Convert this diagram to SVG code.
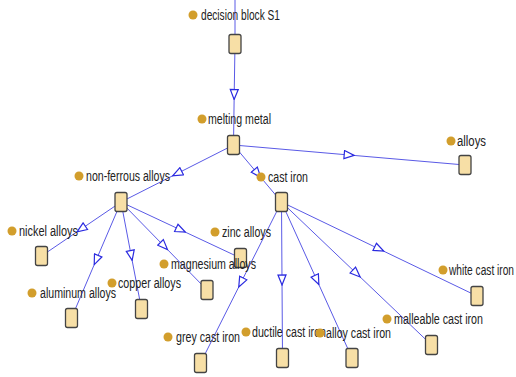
<svg xmlns="http://www.w3.org/2000/svg" width="516" height="377" viewBox="0 0 516 377">
<defs>
<style>
.e{fill:none;stroke:#5a5ae6;stroke-width:1;marker-mid:url(#tri)}
.b{fill:#f7dfa6;stroke:#444;stroke-width:1.3}
.d{fill:#d29e2c}
.t{font-family:"Liberation Sans",Arial,sans-serif;font-size:14px;fill:#222}
</style>
<marker id="tri" viewBox="0 0 12 10" refX="6" refY="5" markerWidth="12" markerHeight="10" markerUnits="userSpaceOnUse" orient="auto">
<path d="M1,1 L11,5 L1,9 Z" fill="#fff" stroke="#2a2ae0" stroke-width="1.2"/>
</marker>
</defs>
<rect width="516" height="377" fill="#fff"/>
<g id="connectors">
<path class="e" d="M235,0 L235,44"/>
<path class="e" d="M235,44 L234.2,94.5 L233.5,145"/>
<path class="e" d="M233.5,145 L349.2,155 L465,165"/>
<path class="e" d="M233.5,145 L177.2,173.5 L121,202"/>
<path class="e" d="M233.5,145 L257.5,173.5 L281.5,202"/>
<path class="e" d="M121,202 L81.2,229 L41.5,256"/>
<path class="e" d="M121,202 L96.2,260 L71.5,318"/>
<path class="e" d="M121,202 L131.2,255.5 L141.5,309"/>
<path class="e" d="M121,202 L164,246 L207,290"/>
<path class="e" d="M121,202 L180.8,230 L240.5,258"/>
<path class="e" d="M281.5,202 L241,282.5 L200.5,363"/>
<path class="e" d="M281.5,202 L282,280 L282.5,358"/>
<path class="e" d="M281.5,202 L316.8,280 L352,358"/>
<path class="e" d="M281.5,202 L356.5,273.5 L431.5,345"/>
<path class="e" d="M281.5,202 L379.2,249 L477,296"/>
</g>
<g id="n1"><rect class="b" x="229" y="34.5" width="12" height="19" rx="2"/><circle class="d" cx="193" cy="15" r="4.5"/><text class="t" x="201" y="20" textLength="79" lengthAdjust="spacingAndGlyphs">decision block S1</text></g>
<g id="n2"><rect class="b" x="227.5" y="135.5" width="12" height="19" rx="2"/><circle class="d" cx="202" cy="119" r="4.5"/><text class="t" x="208" y="124" textLength="63" lengthAdjust="spacingAndGlyphs">melting metal</text></g>
<g id="n3"><rect class="b" x="459" y="155.5" width="12" height="19" rx="2"/><circle class="d" cx="451" cy="141" r="4.5"/><text class="t" x="457" y="146" textLength="29" lengthAdjust="spacingAndGlyphs">alloys</text></g>
<g id="n4"><rect class="b" x="115" y="192.5" width="12" height="19" rx="2"/><circle class="d" cx="79" cy="176" r="4.5"/><text class="t" x="86" y="181" textLength="84" lengthAdjust="spacingAndGlyphs">non-ferrous alloys</text></g>
<g id="n5"><rect class="b" x="275.5" y="192.5" width="12" height="19" rx="2"/><circle class="d" cx="261" cy="177" r="4.5"/><text class="t" x="268" y="182" textLength="40" lengthAdjust="spacingAndGlyphs">cast iron</text></g>
<g id="n6"><rect class="b" x="35.5" y="246.5" width="12" height="19" rx="2"/><circle class="d" cx="12" cy="231" r="4.5"/><text class="t" x="19" y="236" textLength="59" lengthAdjust="spacingAndGlyphs">nickel alloys</text></g>
<g id="n7"><rect class="b" x="234.5" y="248.5" width="12" height="19" rx="2"/><circle class="d" cx="215" cy="232" r="4.5"/><text class="t" x="222" y="237" textLength="49" lengthAdjust="spacingAndGlyphs">zinc alloys</text></g>
<g id="n8"><rect class="b" x="201" y="280.5" width="12" height="19" rx="2"/><circle class="d" cx="164" cy="264" r="4.5"/><text class="t" x="171" y="269" textLength="85" lengthAdjust="spacingAndGlyphs">magnesium alloys</text></g>
<g id="n9"><rect class="b" x="135.5" y="299.5" width="12" height="19" rx="2"/><circle class="d" cx="112" cy="283" r="4.5"/><text class="t" x="118" y="288" textLength="63" lengthAdjust="spacingAndGlyphs">copper alloys</text></g>
<g id="n10"><rect class="b" x="65.5" y="308.5" width="12" height="19" rx="2"/><circle class="d" cx="32" cy="293" r="4.5"/><text class="t" x="40" y="298" textLength="76" lengthAdjust="spacingAndGlyphs">aluminum alloys</text></g>
<g id="n11"><rect class="b" x="194.5" y="353.5" width="12" height="19" rx="2"/><circle class="d" cx="168" cy="337" r="4.5"/><text class="t" x="176" y="342" textLength="64" lengthAdjust="spacingAndGlyphs">grey cast iron</text></g>
<g id="n12"><rect class="b" x="276.5" y="348.5" width="12" height="19" rx="2"/><circle class="d" cx="246" cy="332" r="4.5"/><text class="t" x="252" y="337" textLength="74" lengthAdjust="spacingAndGlyphs">ductile cast iron</text></g>
<g id="n13"><rect class="b" x="346" y="348.5" width="12" height="19" rx="2"/><circle class="d" cx="320" cy="333" r="4.5"/><text class="t" x="326" y="338" textLength="65" lengthAdjust="spacingAndGlyphs">alloy cast iron</text></g>
<g id="n14"><rect class="b" x="425.5" y="335.5" width="12" height="19" rx="2"/><circle class="d" cx="387" cy="319" r="4.5"/><text class="t" x="394" y="324" textLength="89" lengthAdjust="spacingAndGlyphs">malleable cast iron</text></g>
<g id="n15"><rect class="b" x="471" y="286.5" width="12" height="19" rx="2"/><circle class="d" cx="443" cy="270" r="4.5"/><text class="t" x="449" y="275" textLength="65" lengthAdjust="spacingAndGlyphs">white cast iron</text></g>
</svg>
